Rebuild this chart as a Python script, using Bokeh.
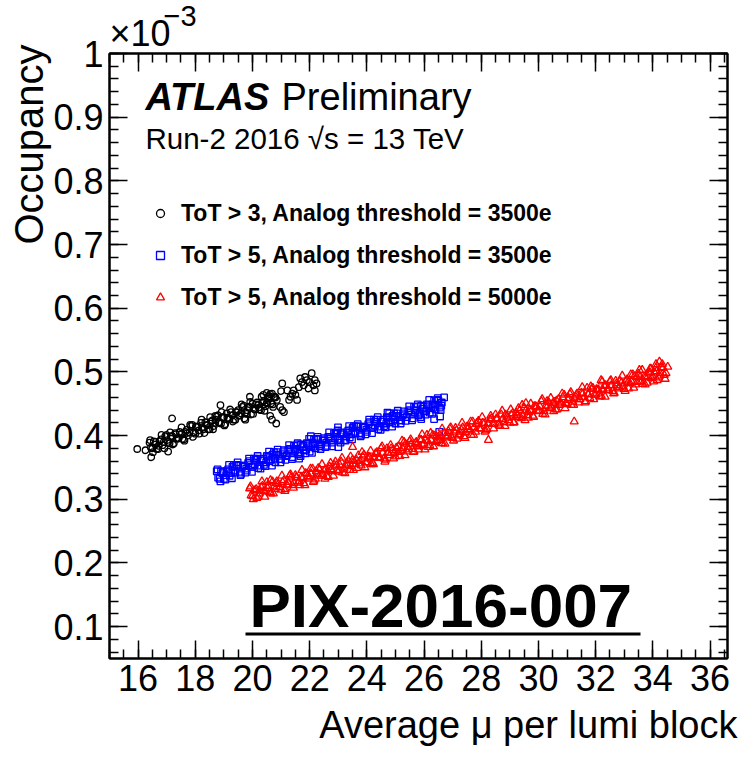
from bokeh.plotting import figure
from bokeh.models import (Range1d, FixedTicker, LinearAxis, Label, Legend, LegendItem,
                          CustomJSTickFormatter, BoxAnnotation, ColumnDataSource, Title)
from bokeh.embed import file_html
from bokeh.resources import INLINE

FONT = "Liberation Sans"

# ---------------------------------------------------------------------------
# Pixel occupancy (in units of 1e-3) versus average pile-up per lumi block
# ---------------------------------------------------------------------------

# ToT > 3, analog threshold 3500e
mu_tot3_3500 = [
    16.4, 16.5, 16.6, 16.7, 16.8, 16.9, 17.0, 17.1, 17.2, 17.3,
    17.4, 17.5, 17.6, 17.7, 17.8, 17.9, 18.0, 18.1, 18.2, 18.3,
    18.4, 18.5, 18.6, 18.7, 18.8, 18.9, 19.0, 19.1, 19.2, 19.3,
    19.4, 19.5, 19.6, 19.7, 19.8, 19.9, 20.0, 20.1, 20.2, 20.3,
    20.4, 20.5, 20.6, 20.7, 20.8,
    16.45, 16.55, 16.65, 16.75, 16.85, 16.95, 17.05, 17.15, 17.25, 17.35,
    17.45, 17.55, 17.65, 17.75, 17.85, 17.95, 18.05, 18.15, 18.25, 18.35,
    18.45, 18.55, 18.65, 18.75, 18.85, 18.95, 19.05, 19.15, 19.25, 19.35,
    19.45, 19.55, 19.65, 19.75, 19.85, 19.95, 20.05, 20.15, 20.25, 20.35,
    20.45, 20.55, 20.65, 20.75,
    16.42, 16.52, 16.62, 16.72, 16.82, 16.92, 17.02, 17.12, 17.22, 17.32,
    17.42, 17.52, 17.62, 17.72, 17.82, 17.92, 18.02, 18.12, 18.22, 18.32,
    18.42, 18.52, 18.62, 18.72, 18.82, 18.92, 19.02, 19.12, 19.22, 19.32,
    19.42, 19.52, 19.62, 19.72, 19.82, 19.92, 20.02, 20.12, 20.22, 20.32,
    20.42, 20.52, 20.62, 20.72,
    15.97, 16.26, 16.46, 17.05, 17.19, 18.70, 18.88, 19.75, 19.91,
    20.38, 20.50, 20.56, 20.62, 20.68, 20.68, 20.79, 20.83, 20.85, 20.97,
    21.00, 21.04, 21.04, 21.10, 21.22, 21.28, 21.33, 21.39, 21.44, 21.50,
    21.56, 21.62, 21.67, 21.73, 21.79, 21.84, 21.90, 21.96, 22.00, 22.07,
    22.13, 22.18, 22.18, 22.24,
]
occ_tot3_3500 = [
    0.389, 0.380, 0.386, 0.379, 0.394, 0.390, 0.401, 0.388, 0.399, 0.404,
    0.395, 0.402, 0.394, 0.409, 0.405, 0.417, 0.403, 0.414, 0.420, 0.410,
    0.417, 0.410, 0.424, 0.420, 0.432, 0.419, 0.429, 0.435, 0.426, 0.432,
    0.425, 0.440, 0.435, 0.447, 0.434, 0.445, 0.450, 0.441, 0.448, 0.440,
    0.455, 0.451, 0.462, 0.449, 0.460,
    0.381, 0.391, 0.379, 0.391, 0.385, 0.399, 0.390, 0.399, 0.388, 0.396,
    0.406, 0.395, 0.406, 0.400, 0.415, 0.405, 0.414, 0.403, 0.412, 0.421,
    0.410, 0.422, 0.415, 0.430, 0.421, 0.429, 0.418, 0.427, 0.437, 0.425,
    0.437, 0.431, 0.445, 0.436, 0.445, 0.433, 0.442, 0.452, 0.441, 0.452,
    0.446, 0.461, 0.451, 0.460,
    0.393, 0.374, 0.390, 0.384, 0.401, 0.380, 0.393, 0.405, 0.386, 0.402,
    0.396, 0.413, 0.392, 0.404, 0.417, 0.398, 0.414, 0.408, 0.425, 0.404,
    0.416, 0.429, 0.410, 0.425, 0.420, 0.437, 0.416, 0.428, 0.441, 0.422,
    0.437, 0.432, 0.449, 0.427, 0.440, 0.453, 0.434, 0.449, 0.444, 0.461,
    0.439, 0.452, 0.465, 0.445,
    0.379, 0.377, 0.366, 0.375, 0.427, 0.431, 0.448, 0.425, 0.461,
    0.464, 0.467, 0.458, 0.431, 0.466, 0.425, 0.461, 0.419, 0.456, 0.445,
    0.470, 0.482, 0.440, 0.437, 0.471, 0.456, 0.461, 0.466, 0.471, 0.464,
    0.456, 0.476, 0.490, 0.484, 0.479, 0.492, 0.487, 0.474, 0.484, 0.498,
    0.479, 0.487, 0.471, 0.482,
]

# ToT > 5, analog threshold 3500e
mu_tot5_3500 = [
    18.75, 18.85, 18.95, 19.05, 19.15, 19.25, 19.35, 19.45, 19.55, 19.65,
    19.75, 19.85, 19.95, 20.05, 20.15, 20.25, 20.35, 20.45, 20.55, 20.65,
    20.75, 20.85, 20.95, 21.05, 21.15, 21.25, 21.35, 21.45, 21.55, 21.65,
    21.75, 21.85, 21.95, 22.05, 22.15, 22.25, 22.35, 22.45, 22.55, 22.65,
    22.75, 22.85, 22.95, 23.05, 23.15, 23.25, 23.35, 23.45, 23.55, 23.65,
    23.75, 23.85, 23.95, 24.05, 24.15, 24.25, 24.35, 24.45, 24.55, 24.65,
    24.75, 24.85, 24.95, 25.05, 25.15, 25.25, 25.35, 25.45, 25.55, 25.65,
    25.75, 25.85, 25.95, 26.05, 26.15, 26.25, 26.35, 26.45, 26.55,
    18.80, 18.90, 19.00, 19.10, 19.20, 19.30, 19.40, 19.50, 19.60, 19.70,
    19.80, 19.90, 20.00, 20.10, 20.20, 20.30, 20.40, 20.50, 20.60, 20.70,
    20.80, 20.90, 21.00, 21.10, 21.20, 21.30, 21.40, 21.50, 21.60, 21.70,
    21.80, 21.90, 22.00, 22.10, 22.20, 22.30, 22.40, 22.50, 22.60, 22.70,
    22.80, 22.90, 23.00, 23.10, 23.20, 23.30, 23.40, 23.50, 23.60, 23.70,
    23.80, 23.90, 24.00, 24.10, 24.20, 24.30, 24.40, 24.50, 24.60, 24.70,
    24.80, 24.90, 25.00, 25.10, 25.20, 25.30, 25.40, 25.50, 25.60, 25.70,
    25.80, 25.90, 26.00, 26.10, 26.20, 26.30, 26.40, 26.50, 26.60,
    18.78, 18.88, 18.98, 19.08, 19.18, 19.28, 19.38, 19.48, 19.58, 19.68,
    19.78, 19.88, 19.98, 20.08, 20.18, 20.28, 20.38, 20.48, 20.58, 20.68,
    20.78, 20.88, 20.98, 21.08, 21.18, 21.28, 21.38, 21.48, 21.58, 21.68,
    21.78, 21.88, 21.98, 22.08, 22.18, 22.28, 22.38, 22.48, 22.58, 22.68,
    22.78, 22.88, 22.98, 23.08, 23.18, 23.28, 23.38, 23.48, 23.58, 23.68,
    23.78, 23.88, 23.98, 24.08, 24.18, 24.28, 24.38, 24.48, 24.58, 24.68,
    24.78, 24.88, 24.98, 25.08, 25.18, 25.28, 25.38, 25.48, 25.58, 25.68,
    25.78, 25.88, 25.98, 26.08, 26.18, 26.28, 26.38, 26.48, 26.58,
    21.63, 22.04, 22.99, 23.00, 24.72, 25.90, 26.35, 26.53, 26.56, 26.70,
    26.62,
]
occ_tot5_3500 = [
    0.344, 0.332, 0.341, 0.331, 0.347, 0.341, 0.354, 0.354, 0.343, 0.351,
    0.342, 0.357, 0.351, 0.364, 0.364, 0.353, 0.361, 0.352, 0.367, 0.362,
    0.374, 0.374, 0.363, 0.371, 0.362, 0.377, 0.372, 0.384, 0.385, 0.373,
    0.382, 0.372, 0.387, 0.382, 0.394, 0.395, 0.383, 0.392, 0.382, 0.398,
    0.392, 0.404, 0.405, 0.393, 0.402, 0.392, 0.408, 0.402, 0.415, 0.415,
    0.404, 0.412, 0.402, 0.418, 0.412, 0.425, 0.425, 0.414, 0.422, 0.413,
    0.428, 0.422, 0.435, 0.435, 0.424, 0.432, 0.423, 0.438, 0.433, 0.445,
    0.446, 0.434, 0.442, 0.433, 0.448, 0.443, 0.455, 0.456, 0.444,
    0.334, 0.344, 0.332, 0.344, 0.337, 0.351, 0.342, 0.353, 0.340, 0.353,
    0.345, 0.360, 0.351, 0.362, 0.349, 0.361, 0.354, 0.368, 0.360, 0.370,
    0.358, 0.370, 0.363, 0.377, 0.369, 0.379, 0.366, 0.379, 0.371, 0.386,
    0.377, 0.388, 0.375, 0.388, 0.380, 0.394, 0.386, 0.396, 0.384, 0.396,
    0.389, 0.403, 0.395, 0.405, 0.393, 0.405, 0.397, 0.412, 0.403, 0.414,
    0.401, 0.414, 0.406, 0.421, 0.412, 0.422, 0.410, 0.422, 0.415, 0.429,
    0.421, 0.431, 0.419, 0.431, 0.424, 0.438, 0.429, 0.440, 0.427, 0.440,
    0.432, 0.447, 0.438, 0.449, 0.436, 0.449, 0.441, 0.455, 0.447,
    0.347, 0.328, 0.343, 0.338, 0.354, 0.333, 0.345, 0.358, 0.338, 0.353,
    0.348, 0.364, 0.343, 0.355, 0.368, 0.348, 0.364, 0.358, 0.375, 0.353,
    0.365, 0.378, 0.358, 0.374, 0.368, 0.385, 0.363, 0.376, 0.388, 0.368,
    0.384, 0.378, 0.395, 0.373, 0.386, 0.398, 0.379, 0.394, 0.389, 0.405,
    0.383, 0.396, 0.408, 0.389, 0.404, 0.399, 0.415, 0.394, 0.406, 0.418,
    0.399, 0.414, 0.409, 0.425, 0.404, 0.416, 0.429, 0.409, 0.425, 0.419,
    0.435, 0.414, 0.426, 0.439, 0.419, 0.435, 0.429, 0.446, 0.424, 0.436,
    0.449, 0.429, 0.445, 0.439, 0.456, 0.434, 0.447, 0.459, 0.440,
    0.364, 0.399, 0.413, 0.382, 0.436, 0.426, 0.426, 0.406, 0.430, 0.460,
    0.452,
]

# ToT > 5, analog threshold 5000e
mu_tot5_5000 = [
    19.9, 20.0, 20.1, 20.2, 20.3, 20.4, 20.5, 20.6, 20.7, 20.8,
    20.9, 21.0, 21.1, 21.2, 21.3, 21.4, 21.5, 21.6, 21.7, 21.8,
    21.9, 22.0, 22.1, 22.2, 22.3, 22.4, 22.5, 22.6, 22.7, 22.8,
    22.9, 23.0, 23.1, 23.2, 23.3, 23.4, 23.5, 23.6, 23.7, 23.8,
    23.9, 24.0, 24.1, 24.2, 24.3, 24.4, 24.5, 24.6, 24.7, 24.8,
    24.9, 25.0, 25.1, 25.2, 25.3, 25.4, 25.5, 25.6, 25.7, 25.8,
    25.9, 26.0, 26.1, 26.2, 26.3, 26.4, 26.5, 26.6, 26.7, 26.8,
    26.9, 27.0, 27.1, 27.2, 27.3, 27.4, 27.5, 27.6, 27.7, 27.8,
    27.9, 28.0, 28.1, 28.2, 28.3, 28.4, 28.5, 28.6, 28.7, 28.8,
    28.9, 29.0, 29.1, 29.2, 29.3, 29.4, 29.5, 29.6, 29.7, 29.8,
    29.9, 30.0, 30.1, 30.2, 30.3, 30.4, 30.5, 30.6, 30.7, 30.8,
    30.9, 31.0, 31.1, 31.2, 31.3, 31.4, 31.5, 31.6, 31.7, 31.8,
    31.9, 32.0, 32.1, 32.2, 32.3, 32.4, 32.5, 32.6, 32.7, 32.8,
    32.9, 33.0, 33.1, 33.2, 33.3, 33.4, 33.5, 33.6, 33.7, 33.8,
    33.9, 34.0, 34.1, 34.2, 34.3, 34.4,
    19.95, 20.05, 20.15, 20.25, 20.35, 20.45, 20.55, 20.65, 20.75, 20.85,
    20.95, 21.05, 21.15, 21.25, 21.35, 21.45, 21.55, 21.65, 21.75, 21.85,
    21.95, 22.05, 22.15, 22.25, 22.35, 22.45, 22.55, 22.65, 22.75, 22.85,
    22.95, 23.05, 23.15, 23.25, 23.35, 23.45, 23.55, 23.65, 23.75, 23.85,
    23.95, 24.05, 24.15, 24.25, 24.35, 24.45, 24.55, 24.65, 24.75, 24.85,
    24.95, 25.05, 25.15, 25.25, 25.35, 25.45, 25.55, 25.65, 25.75, 25.85,
    25.95, 26.05, 26.15, 26.25, 26.35, 26.45, 26.55, 26.65, 26.75, 26.85,
    26.95, 27.05, 27.15, 27.25, 27.35, 27.45, 27.55, 27.65, 27.75, 27.85,
    27.95, 28.05, 28.15, 28.25, 28.35, 28.45, 28.55, 28.65, 28.75, 28.85,
    28.95, 29.05, 29.15, 29.25, 29.35, 29.45, 29.55, 29.65, 29.75, 29.85,
    29.95, 30.05, 30.15, 30.25, 30.35, 30.45, 30.55, 30.65, 30.75, 30.85,
    30.95, 31.05, 31.15, 31.25, 31.35, 31.45, 31.55, 31.65, 31.75, 31.85,
    31.95, 32.05, 32.15, 32.25, 32.35, 32.45, 32.55, 32.65, 32.75, 32.85,
    32.95, 33.05, 33.15, 33.25, 33.35, 33.45, 33.55, 33.65, 33.75, 33.85,
    33.95, 34.05, 34.15, 34.25, 34.35,
    19.93, 20.03, 20.13, 20.23, 20.33, 20.43, 20.53, 20.63, 20.73, 20.83,
    20.93, 21.03, 21.13, 21.23, 21.33, 21.43, 21.53, 21.63, 21.73, 21.83,
    21.93, 22.03, 22.13, 22.23, 22.33, 22.43, 22.53, 22.63, 22.73, 22.83,
    22.93, 23.03, 23.13, 23.23, 23.33, 23.43, 23.53, 23.63, 23.73, 23.83,
    23.93, 24.03, 24.13, 24.23, 24.33, 24.43, 24.53, 24.63, 24.73, 24.83,
    24.93, 25.03, 25.13, 25.23, 25.33, 25.43, 25.53, 25.63, 25.73, 25.83,
    25.93, 26.03, 26.13, 26.23, 26.33, 26.43, 26.53, 26.63, 26.73, 26.83,
    26.93, 27.03, 27.13, 27.23, 27.33, 27.43, 27.53, 27.63, 27.73, 27.83,
    27.93, 28.03, 28.13, 28.23, 28.33, 28.43, 28.53, 28.63, 28.73, 28.83,
    28.93, 29.03, 29.13, 29.23, 29.33, 29.43, 29.53, 29.63, 29.73, 29.83,
    29.93, 30.03, 30.13, 30.23, 30.33, 30.43, 30.53, 30.63, 30.73, 30.83,
    30.93, 31.03, 31.13, 31.23, 31.33, 31.43, 31.53, 31.63, 31.73, 31.83,
    31.93, 32.03, 32.13, 32.23, 32.33, 32.43, 32.53, 32.63, 32.73, 32.83,
    32.93, 33.03, 33.13, 33.23, 33.33, 33.43, 33.53, 33.63, 33.73, 33.83,
    33.93, 34.03, 34.13, 34.23, 34.33, 34.43,
    23.50, 28.25, 31.25, 29.56, 32.19, 33.53, 34.11, 34.23, 34.46, 34.52,
    33.90,
]
occ_tot5_5000 = [
    0.317, 0.305, 0.314, 0.304, 0.319, 0.313, 0.327, 0.311, 0.328, 0.316,
    0.324, 0.315, 0.330, 0.323, 0.337, 0.322, 0.338, 0.326, 0.335, 0.325,
    0.340, 0.334, 0.348, 0.332, 0.349, 0.337, 0.345, 0.336, 0.351, 0.344,
    0.359, 0.343, 0.359, 0.348, 0.356, 0.346, 0.362, 0.355, 0.369, 0.353,
    0.370, 0.358, 0.366, 0.357, 0.372, 0.365, 0.380, 0.364, 0.380, 0.369,
    0.377, 0.367, 0.383, 0.376, 0.390, 0.375, 0.391, 0.379, 0.388, 0.378,
    0.393, 0.387, 0.401, 0.385, 0.401, 0.390, 0.398, 0.388, 0.404, 0.397,
    0.411, 0.396, 0.412, 0.400, 0.409, 0.399, 0.414, 0.408, 0.422, 0.406,
    0.423, 0.411, 0.419, 0.410, 0.425, 0.418, 0.433, 0.417, 0.433, 0.421,
    0.430, 0.420, 0.435, 0.429, 0.443, 0.427, 0.444, 0.432, 0.440, 0.431,
    0.446, 0.439, 0.454, 0.438, 0.454, 0.443, 0.451, 0.441, 0.457, 0.450,
    0.464, 0.449, 0.465, 0.453, 0.461, 0.452, 0.467, 0.460, 0.475, 0.459,
    0.475, 0.464, 0.472, 0.462, 0.478, 0.471, 0.485, 0.470, 0.486, 0.474,
    0.483, 0.473, 0.488, 0.482, 0.496, 0.480, 0.497, 0.485, 0.493, 0.483,
    0.499, 0.492, 0.506, 0.491, 0.507, 0.495,
    0.306, 0.314, 0.302, 0.314, 0.321, 0.312, 0.321, 0.309, 0.320, 0.328,
    0.319, 0.327, 0.316, 0.327, 0.334, 0.325, 0.334, 0.322, 0.333, 0.341,
    0.332, 0.340, 0.329, 0.340, 0.347, 0.339, 0.347, 0.335, 0.347, 0.354,
    0.345, 0.354, 0.342, 0.353, 0.361, 0.352, 0.360, 0.349, 0.360, 0.367,
    0.358, 0.367, 0.355, 0.366, 0.374, 0.365, 0.373, 0.362, 0.373, 0.380,
    0.372, 0.380, 0.368, 0.380, 0.387, 0.378, 0.387, 0.375, 0.386, 0.394,
    0.385, 0.393, 0.382, 0.393, 0.400, 0.391, 0.400, 0.388, 0.399, 0.407,
    0.398, 0.406, 0.395, 0.406, 0.413, 0.405, 0.413, 0.401, 0.413, 0.420,
    0.411, 0.420, 0.408, 0.419, 0.427, 0.418, 0.426, 0.415, 0.426, 0.433,
    0.424, 0.433, 0.421, 0.432, 0.440, 0.431, 0.439, 0.428, 0.439, 0.446,
    0.438, 0.446, 0.434, 0.446, 0.453, 0.444, 0.453, 0.441, 0.452, 0.460,
    0.451, 0.459, 0.448, 0.459, 0.466, 0.457, 0.466, 0.454, 0.465, 0.473,
    0.464, 0.472, 0.461, 0.472, 0.479, 0.471, 0.479, 0.467, 0.479, 0.486,
    0.477, 0.486, 0.474, 0.485, 0.493, 0.484, 0.492, 0.481, 0.492, 0.499,
    0.490, 0.499, 0.487, 0.498, 0.506,
    0.320, 0.300, 0.316, 0.309, 0.328, 0.304, 0.317, 0.330, 0.309, 0.325,
    0.319, 0.337, 0.313, 0.327, 0.339, 0.318, 0.335, 0.328, 0.346, 0.322,
    0.336, 0.348, 0.327, 0.344, 0.337, 0.355, 0.332, 0.345, 0.357, 0.337,
    0.353, 0.346, 0.365, 0.341, 0.354, 0.367, 0.346, 0.362, 0.356, 0.374,
    0.350, 0.364, 0.376, 0.355, 0.371, 0.365, 0.383, 0.359, 0.373, 0.385,
    0.364, 0.381, 0.374, 0.392, 0.369, 0.382, 0.394, 0.374, 0.390, 0.383,
    0.402, 0.378, 0.391, 0.404, 0.383, 0.399, 0.393, 0.411, 0.387, 0.400,
    0.413, 0.392, 0.408, 0.402, 0.420, 0.396, 0.410, 0.422, 0.401, 0.418,
    0.411, 0.429, 0.406, 0.419, 0.431, 0.411, 0.427, 0.420, 0.439, 0.415,
    0.428, 0.441, 0.420, 0.436, 0.429, 0.448, 0.424, 0.437, 0.450, 0.429,
    0.445, 0.439, 0.457, 0.433, 0.447, 0.459, 0.438, 0.455, 0.448, 0.466,
    0.443, 0.456, 0.468, 0.448, 0.464, 0.457, 0.476, 0.452, 0.465, 0.477,
    0.457, 0.473, 0.466, 0.485, 0.461, 0.474, 0.487, 0.466, 0.482, 0.476,
    0.494, 0.470, 0.484, 0.496, 0.475, 0.492, 0.485, 0.503, 0.480, 0.493,
    0.505, 0.485, 0.501, 0.494, 0.512, 0.489,
    0.382, 0.393, 0.422, 0.451, 0.487, 0.503, 0.512, 0.516, 0.498, 0.508,
    0.505,
]

series_labels = [
    "ToT > 3, Analog threshold = 3500e",
    "ToT > 5, Analog threshold = 3500e",
    "ToT > 5, Analog threshold = 5000e",
]
x_title_text = "Average \u03bc per lumi block"

x_ticks = [16, 18, 20, 22, 24, 26, 28, 30, 32, 34, 36]
y_ticks = [0.1, 0.2, 0.3, 0.4, 0.5, 0.6, 0.7, 0.8, 0.9, 1.0]

for xs, ys in ((mu_tot3_3500, occ_tot3_3500), (mu_tot5_3500, occ_tot5_3500),
               (mu_tot5_5000, occ_tot5_5000)):
    assert len(xs) == len(ys)

# ---------------------------------------------------------------------------
# Canvas geometry
# ---------------------------------------------------------------------------
W, H = 740, 767
LEFT, RIGHT, TOP, BOTTOM = 109, 13, 53, 109
X0, X1 = 15.0, 36.61
Y0, Y1 = 0.05, 1.0
FW, FH = W - LEFT - RIGHT, H - TOP - BOTTOM


def at(px, py):
    """Canvas pixel position -> data coordinates (for annotation placement)."""
    return (X0 + (px - LEFT) * (X1 - X0) / FW,
            Y1 - (py - TOP) * (Y1 - Y0) / FH)


p = figure(width=W, height=H, output_backend="svg", toolbar_location=None,
           x_range=Range1d(X0, X1), y_range=Range1d(Y0, Y1),
           x_axis_type=None, y_axis_type=None,
           min_border_left=LEFT, min_border_right=RIGHT,
           min_border_top=TOP, min_border_bottom=BOTTOM)
p.grid.visible = False
p.outline_line_color = "black"
p.outline_line_width = 2
p.background_fill_color = "white"
p.border_fill_color = "white"

x_minor = [15.0 + 0.5 * k for k in range(44)]
y_minor = [round(0.06 + 0.02 * k, 2) for k in range(48)]


def styled_axis(ticks, minor, show_labels):
    ax = LinearAxis(ticker=FixedTicker(ticks=ticks, minor_ticks=minor))
    ax.axis_line_color = "black"
    ax.axis_line_width = 2
    ax.major_tick_in = 18
    ax.major_tick_out = 0
    ax.minor_tick_in = 9
    ax.minor_tick_out = 0
    ax.major_tick_line_color = "black"
    ax.major_tick_line_width = 1.5
    ax.minor_tick_line_color = "black"
    ax.minor_tick_line_width = 1.5
    ax.major_label_text_font = FONT
    if show_labels:
        ax.major_label_text_color = "black"
        ax.major_label_text_font_size = "36px"
    else:
        # mirrored axis: ticks only
        ax.major_label_text_color = None
        ax.major_label_text_font_size = "1px"
        ax.major_label_standoff = 0
    return ax


xb = styled_axis(x_ticks, x_minor, True)
xb.major_label_standoff = 6
xt = styled_axis(x_ticks, x_minor, False)
yl = styled_axis(y_ticks, y_minor, True)
yl.major_label_standoff = 6
yl.formatter = CustomJSTickFormatter(
    code="return tick > 0.999 ? '1' : tick.toFixed(1);")
yr = styled_axis(y_ticks, y_minor, False)
p.add_layout(xb, "below")
p.add_layout(xt, "above")
p.add_layout(yl, "left")
p.add_layout(yr, "right")

# axis titles and the exponent sit outside the frame, in the side panels


def side_title(text, size, align, standoff, offset=0, valign="bottom"):
    t = Title(text=text, align=align, vertical_align=valign, text_font=FONT,
              text_font_size=size, text_font_style="normal",
              text_color="black")
    t.standoff = standoff
    t.offset = offset
    return t


p.add_layout(side_title("Occupancy", "40px", "right", 0, offset=-9), "left")
p.add_layout(side_title(x_title_text, "38px", "right", 20, offset=-10,
                        valign="top"), "below")
p.add_layout(side_title("\u00d710", "36px", "left", 0), "above")
p.add_layout(side_title("\u22123", "29px", "left", -30, offset=54), "above")

# ---------------------------------------------------------------------------
# Data points
# ---------------------------------------------------------------------------
src_a = ColumnDataSource(dict(mu=mu_tot3_3500, occ=occ_tot3_3500))
src_b = ColumnDataSource(dict(mu=mu_tot5_3500, occ=occ_tot5_3500))
src_c = ColumnDataSource(dict(mu=mu_tot5_5000, occ=occ_tot5_5000))

r_a = p.scatter("mu", "occ", source=src_a, marker="circle", size=6.5,
                line_color="black", fill_color=None, line_width=1.3)
r_b = p.scatter("mu", "occ", source=src_b, marker="square", size=6.5,
                line_color="#0000ff", fill_color=None, line_width=1.3)
r_c = p.scatter("mu", "occ", source=src_c, marker="triangle", size=8,
                line_color="#ff0000", fill_color=None, line_width=1.3)

legend = Legend(
    items=[LegendItem(label=series_labels[0], renderers=[r_a]),
           LegendItem(label=series_labels[1], renderers=[r_b]),
           LegendItem(label=series_labels[2], renderers=[r_c])],
    location=(41, 340), orientation="vertical",
    border_line_color=None, background_fill_alpha=0,
    label_text_font=FONT, label_text_font_style="bold",
    label_text_font_size="23px", label_text_color="black",
    glyph_width=20, glyph_height=42, label_height=42,
    spacing=0, padding=0, margin=0, label_standoff=11,
)
p.add_layout(legend)

# ---------------------------------------------------------------------------
# Text inside the frame
# ---------------------------------------------------------------------------


def text(px, baseline, s, size, style="normal"):
    # the label anchor sits about 0.36 em above the drawn baseline
    x, y = at(px, baseline - 0.36 * size)
    p.add_layout(Label(x=x, y=y, text=s, text_font=FONT,
                       text_font_size=f"{size}px", text_font_style=style,
                       text_align="left", text_baseline="alphabetic",
                       text_color="black"))


text(145, 110, "ATLAS", 38, style="bold italic")
text(281, 110, "Preliminary", 38)
text(145, 149, "Run-2 2016 \u221as = 13 TeV", 29.5)
text(249, 627, "PIX-2016-007", 62, style="bold")

ul_l, ul_t = at(245, 632)
ul_r, ul_b = at(640, 635)
p.add_layout(BoxAnnotation(left=ul_l, right=ul_r, top=ul_t, bottom=ul_b,
                           fill_color="black", fill_alpha=1.0,
                           line_color=None))

open("out.html", "w").write(file_html(p, INLINE))
